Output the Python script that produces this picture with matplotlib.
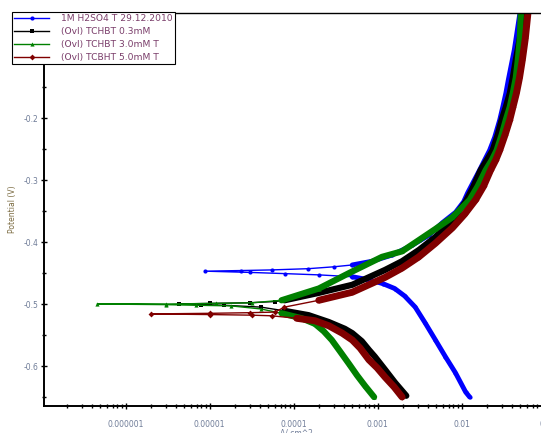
import numpy as np
import matplotlib
matplotlib.use("Agg")
import matplotlib.pyplot as plt
from matplotlib.ticker import FixedLocator, LogLocator, NullFormatter, FixedFormatter

# Tafel data, in scan order (cathodic end -> Ecorr -> anodic end)
# blank: 1M H2SO4
blank_E = [-0.650, -0.642, -0.611, -0.585, -0.558, -0.531, -0.505, -0.487, -0.475, -0.467,
           -0.461, -0.456, -0.453, -0.451, -0.449, -0.447,
           -0.446, -0.445, -0.443, -0.440, -0.437, -0.431, -0.421, -0.405, -0.389,
           -0.369, -0.352, -0.335, -0.321, -0.284, -0.268, -0.252, -0.231, -0.203, -0.182,
           -0.160, -0.139, -0.123, -0.090, -0.063, -0.031]
blank_i = [1.25e-2, 1.12e-2, 8.47e-3, 6.43e-3, 4.89e-3, 3.71e-3, 2.81e-3, 2.1e-3, 1.6e-3, 1.15e-3,
           7.9e-4, 5.0e-4, 2.0e-4, 8e-5, 3e-5, 8.8e-6,
           2.4e-5, 5.5e-5, 1.5e-4, 3.0e-4, 5.0e-4, 8.6e-4, 1.49e-3, 2.6e-3, 4.1e-3,
           5.9e-3, 8.5e-3, 1.06e-2, 1.18e-2, 1.64e-2, 1.88e-2, 2.16e-2, 2.48e-2, 2.85e-2, 3.10e-2,
           3.37e-2, 3.6e-2, 3.8e-2, 4.25e-2, 4.56e-2, 4.95e-2]

# 0.3 mM
c03_E = [-0.648, -0.627, -0.606, -0.585, -0.574, -0.560, -0.547, -0.540, -0.529, -0.518,
         -0.511, -0.505, -0.502, -0.501, -0.500,
         -0.499, -0.498, -0.496, -0.494, -0.482, -0.469, -0.445, -0.431, -0.413, -0.392,
         -0.365, -0.335, -0.313, -0.284, -0.268, -0.252, -0.227, -0.203, -0.182, -0.160,
         -0.135, -0.106, -0.071, -0.031]
c03_i = [2.2e-3, 1.62e-3, 1.23e-3, 9.3e-4, 7.9e-4, 6.5e-4, 5.0e-4, 4.08e-4, 2.62e-4, 1.51e-4,
         7.8e-5, 4.1e-5, 1.5e-5, 8e-6, 4.3e-6,
         1e-5, 3e-5, 6e-5, 7.8e-5, 2.0e-4, 5.0e-4, 1.23e-3, 1.96e-3, 3.1e-3, 4.89e-3,
         7.8e-3, 1.12e-2, 1.36e-2, 1.69e-2, 2.0e-2, 2.35e-2, 2.7e-2, 3.01e-2, 3.37e-2, 3.76e-2,
         4.08e-2, 4.43e-2, 4.95e-2, 5.38e-2]

# 3.0 mM
c30_E = [-0.650, -0.632, -0.615, -0.597, -0.576, -0.558, -0.544, -0.532, -0.523, -0.515,
         -0.508, -0.503, -0.502, -0.501, -0.500,
         -0.500, -0.499, -0.498, -0.494, -0.475, -0.450, -0.424, -0.415, -0.397, -0.379,
         -0.360, -0.332, -0.310, -0.284, -0.268, -0.252, -0.227, -0.203, -0.182, -0.160,
         -0.135, -0.106, -0.071, -0.031]
c30_i = [9.1e-4, 7.1e-4, 5.7e-4, 4.6e-4, 3.56e-4, 2.85e-4, 2.29e-4, 1.8e-4, 1.25e-4, 7.2e-5,
         4.1e-5, 1.8e-5, 6.9e-6, 3e-6, 4.6e-7,
         3e-6, 1.2e-5, 3.2e-5, 7.2e-5, 2.0e-4, 4.6e-4, 1.13e-3, 1.96e-3, 3.1e-3, 4.89e-3,
         7.8e-3, 1.25e-2, 1.56e-2, 1.94e-2, 2.29e-2, 2.62e-2, 3.01e-2, 3.37e-2, 3.76e-2, 4.08e-2,
         4.43e-2, 4.69e-2, 4.95e-2, 5.09e-2]

# 5.0 mM
c50_E = [-0.650, -0.634, -0.618, -0.603, -0.590, -0.571, -0.558, -0.547, -0.535, -0.527,
         -0.523, -0.519, -0.518, -0.517, -0.516,
         -0.515, -0.514, -0.513, -0.505, -0.494, -0.481, -0.457, -0.442, -0.424, -0.402,
         -0.377, -0.355, -0.332, -0.310, -0.284, -0.268, -0.252, -0.227, -0.203, -0.182,
         -0.160, -0.135, -0.106, -0.071, -0.031]
c50_i = [1.96e-3, 1.58e-3, 1.23e-3, 9.9e-4, 7.9e-4, 6.2e-4, 5.0e-4, 3.8e-4, 2.62e-4, 1.8e-4,
         1.09e-4, 5.5e-5, 3.2e-5, 1e-5, 2.0e-6,
         1e-5, 3e-5, 6e-5, 7.8e-5, 2.0e-4, 5.0e-4, 1.23e-3, 1.96e-3, 3.1e-3, 4.89e-3,
         7.8e-3, 1.09e-2, 1.47e-2, 1.83e-2, 2.22e-2, 2.55e-2, 2.85e-2, 3.3e-2, 3.75e-2, 4.1e-2,
         4.5e-2, 4.9e-2, 5.3e-2, 5.75e-2, 6.17e-2]

labels = ["1M H2SO4 T 29.12.2010", "(Ovl) TCHBT 0.3mM", "(Ovl) TCHBT 3.0mM T", "(Ovl) TCBHT 5.0mM T"]
colors = ["#0000ff", "#000000", "#008000", "#800000"]
markers = ["o", "s", "^", "D"]
thick_from = [3.5e-4, 7.0e-5, 5.0e-5, 1.0e-4]
thick_lw = [3.5, 4.5, 4.5, 5.0]
x_ticks = [1e-6, 1e-5, 1e-4, 1e-3, 1e-2, 1e-1]
x_ticklabels = ["0.000001", "0.00001", "0.0001", "0.001", "0.01", "0.1"]

tick_col = "#6f7c98"
leg_col = "#7a3d6a"

fig = plt.figure(figsize=(5.41, 4.33), dpi=100)
ax = fig.add_axes([44 / 541, 27 / 433, 505 / 541, 393 / 433])

series = [(blank_i, blank_E), (c03_i, c03_E), (c30_i, c30_E), (c50_i, c50_E)]
handles = []
for k, (cur, pot) in enumerate(series):
    cur = np.array(cur)
    pot = np.array(pot)
    h, = ax.plot(cur, pot, color=colors[k], lw=1.0, marker=markers[k], ms=3,
                 markeredgewidth=0, label=labels[k])
    thick = np.where(cur >= thick_from[k], cur, np.nan)
    ax.plot(thick, pot, color=colors[k], lw=thick_lw[k], solid_capstyle="round",
            solid_joinstyle="round")
    handles.append(h)

ax.set_xscale("log")
ax.set_xlim(1.07e-7, 0.11)
ax.set_ylim(-0.6645, -0.0306)

ax.xaxis.set_major_locator(FixedLocator(x_ticks))
ax.xaxis.set_major_formatter(FixedFormatter(x_ticklabels))
ax.xaxis.set_minor_locator(LogLocator(base=10, subs=np.arange(2, 10)))
ax.xaxis.set_minor_formatter(NullFormatter())
ax.yaxis.set_major_locator(FixedLocator([-0.6, -0.5, -0.4, -0.3, -0.2, -0.1]))
ax.yaxis.set_minor_locator(FixedLocator([-0.65, -0.55, -0.45, -0.35, -0.25, -0.15, -0.05]))
ax.yaxis.set_major_formatter(FixedFormatter(["-0.6", "-0.5", "-0.4", "-0.3", "-0.2", "-0.1"]))

ax.tick_params(which="major", direction="inout", length=4, width=1, labelsize=5.5,
               labelcolor=tick_col, pad=8)
ax.tick_params(which="minor", direction="inout", length=3, width=1)
ax.tick_params(axis="y", pad=2)
for s in ["left", "bottom"]:
    ax.spines[s].set_linewidth(1.4)
ax.spines["top"].set_linewidth(1.0)
ax.spines["right"].set_visible(False)

ax.set_xlabel("A/ cm^2", fontsize=5.5, color=tick_col, labelpad=0)
ax.set_ylabel("Potential (V)", fontsize=5.5, color="#7a6a40")
ax.yaxis.set_label_coords(-0.053, 0.5)

leg = ax.legend(handles=handles, loc="upper left", bbox_to_anchor=(12 / 541, 1 - 12 / 433),
                bbox_transform=fig.transFigure, numpoints=1,
                fontsize=6.6, frameon=True, fancybox=False, edgecolor="black", framealpha=1,
                handlelength=3.8, handletextpad=1.3, borderpad=0.25, labelspacing=0.42,
                borderaxespad=0, shadow=False)
leg.set_zorder(10)
leg.get_frame().set_linewidth(0.8)
for t in leg.get_texts():
    t.set_color(leg_col)

fig.savefig("out.png", dpi=100)
